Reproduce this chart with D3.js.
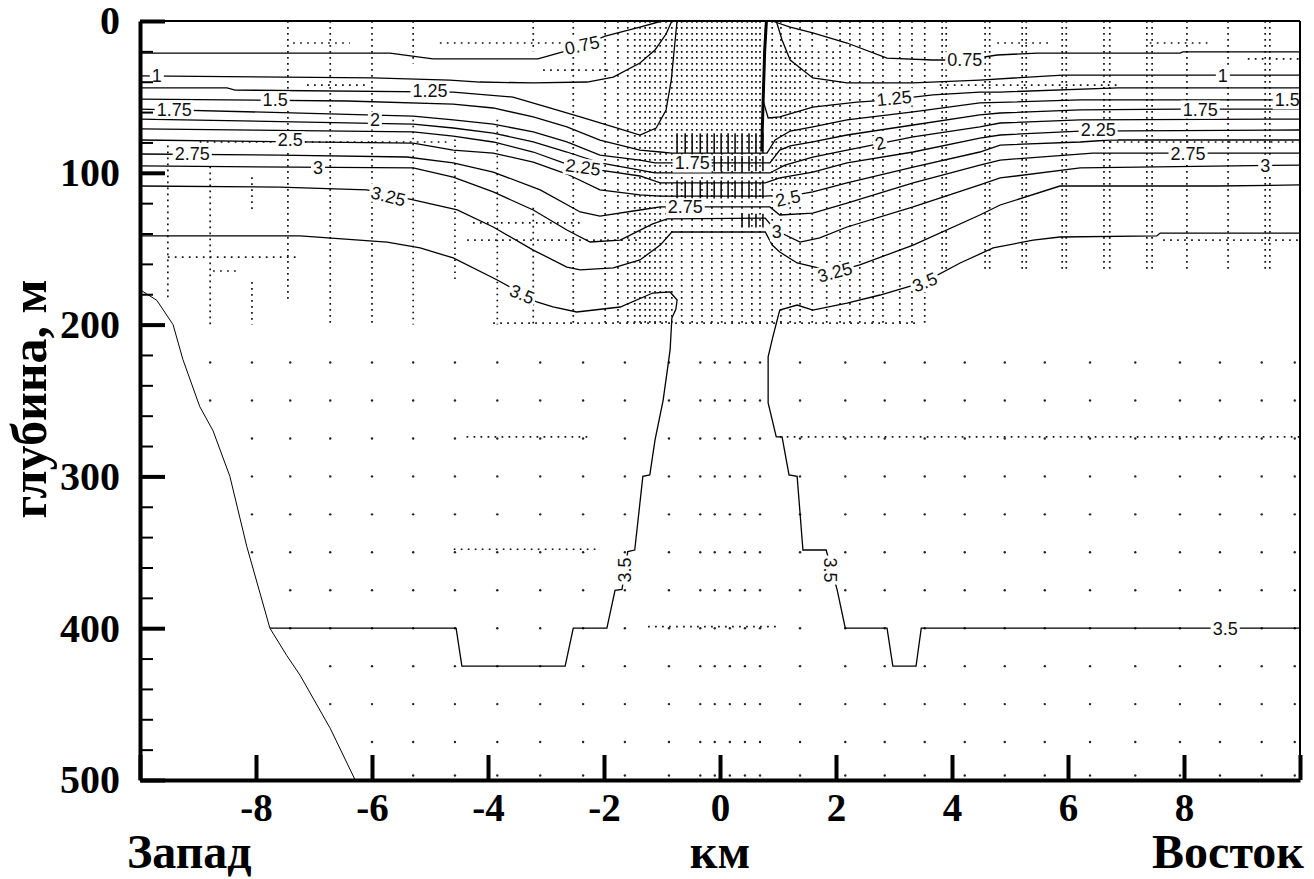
<!DOCTYPE html>
<html>
<head>
<meta charset="utf-8">
<script src="https://cdn.jsdelivr.net/npm/d3@7"></script>
<style>
  body { margin: 0; background: #fff; }
  svg { display: block; }
</style>
</head>
<body>
<svg id="chart" width="1314" height="879"></svg>
<script>
// ---- data (km across section, depth in m) ----
const xTicks = [-10, -8, -6, -4, -2, 0, 2, 4, 6, 8, 10]
const yTicks = [0, 100, 200, 300, 400, 500]
const yMinor = [20, 40, 60, 80, 120, 140, 160, 180, 220, 240, 260, 280, 320, 340, 360, 380, 420, 440, 460, 480]

// bottom slope on the west side
const slope = [[-10, 177], [-9.71, 184], [-9.43, 200], [-9.26, 223], [-8.97, 254], [-8.74, 270], [-8.45, 300],
  [-8.16, 346], [-7.76, 400], [-7.47, 418], [-7.24, 431], [-6.72, 466], [-6.29, 500]]

// isolines of temperature
const c075L = [[-10, 21.1], [-5.69, 21.1], [-4.95, 25], [-3.14, 25], [-2.71, 20.4], [-2.36, 15.8], [-1.98, 9.9], [-1.38, 4], [-1.0, 0]]
const c075R = [[0.9, 0], [1.21, 4], [1.6, 7.9], [2.19, 14.5], [2.88, 24.4], [3.67, 25.7], [4.22, 25.7], [4.78, 22.4], [5.47, 21.1], [7.93, 21.1], [7.98, 20.4], [10, 20.4]]
const c100L = [[-10, 36.2], [-5.98, 37.5], [-4.66, 38.9], [-4.14, 40.2], [-3.22, 40.8], [-2.29, 40.2], [-1.84, 36.9], [-1.38, 27.7], [-1.12, 19.1], [-0.93, 8.6], [-0.83, 0]]
const c100R = [[0.97, 0], [1.07, 12.5], [1.21, 25.7], [1.6, 37.5], [2.19, 40.8], [3.33, 40.8], [4.48, 38.9], [5.91, 35.6], [10, 35.6]]
const c125L = [[-10, 44.1], [-8.5, 44.1], [-8.36, 45.5], [-4.6, 46.8], [-3.57, 50.1], [-2.98, 56.7], [-2.41, 63.2], [-1.84, 69.8], [-1.38, 75.1], [-1.1, 70.5], [-0.93, 58.6], [-0.84, 38.9], [-0.79, 19.1], [-0.74, 0]]
const c125R = [[0.79, 0], [0.76, 25.7], [0.74, 52], [0.83, 63.9], [1.03, 63.2], [1.6, 56.7], [2.36, 53.4], [2.93, 52], [3.67, 48.7], [4.48, 46.8], [4.83, 46.8], [6.86, 44.1], [10, 44.1]]
const c150 = [[-10, 51.4], [-6.43, 52.7], [-4.6, 54.7], [-3.91, 57.3], [-3.22, 63.2], [-2.64, 69.8], [-2.07, 78.4], [-1.38, 85], [-1.03, 86.3], [-0.83, 87], [0.81, 87], [0.95, 78.4], [1.21, 72.5], [1.6, 69.8], [2.19, 65.2], [3.33, 59.9], [4.48, 54], [6.21, 52], [10, 52]]
const c175 = [[-10, 58], [-5.29, 62.6], [-4.6, 65.2], [-3.91, 67.9], [-3.22, 73.1], [-2.64, 79.7], [-2.07, 88.3], [-1.38, 91.6], [-1.12, 93.5], [0.86, 93.5], [1.03, 85], [1.21, 82.3], [1.6, 79.7], [2.19, 75.1], [3.33, 68.5], [4.48, 61.9], [4.83, 60.6], [6.21, 58.6], [7.93, 58], [10, 58]]
const c200 = [[-10, 64.6], [-5.29, 67.9], [-4.6, 70.5], [-3.91, 73.8], [-3.22, 79.7], [-2.64, 86.3], [-2.07, 93.5], [-1.38, 98.2], [-1.12, 100.1], [0.86, 100.1], [1.12, 94.9], [1.6, 89.6], [2.19, 85], [3.33, 76.4], [4.48, 69.8], [4.83, 67.2], [6.21, 65.2], [10, 64.6]]
const c225 = [[-10, 71.1], [-5.29, 73.1], [-4.6, 75.8], [-3.91, 79.7], [-3.22, 86.3], [-2.64, 94.2], [-2.07, 98.2], [-1.38, 102.1], [-1.03, 106.7], [0.78, 106.7], [1.03, 103.4], [1.6, 99.5], [2.19, 93.5], [3.33, 86.3], [4.48, 77.1], [4.83, 75.1], [6.21, 72.5], [10, 71.8]]
const c250 = [[-10, 78.4], [-5.29, 80.4], [-4.6, 85], [-3.91, 87], [-3.22, 92.9], [-2.64, 100.8], [-2.07, 111.3], [-1.38, 114.6], [-1.03, 115.3], [0.78, 115.3], [1.38, 114], [1.6, 112.6], [2.19, 106.7], [3.33, 96.2], [4.48, 86.3], [4.83, 81.7], [6.21, 79.7], [6.72, 78.4], [10, 78.4]]
const c275 = [[-10, 87.6], [-7.59, 88.3], [-5.4, 89.6], [-4.6, 93.5], [-3.91, 99.5], [-3.1, 111.3], [-2.41, 125.8], [-2.07, 128.5], [-1.38, 124.5], [-1.03, 122.5], [0.86, 122.5], [1.03, 127.8], [1.6, 126.5], [2.19, 119.9], [3.33, 106.7], [4.48, 94.9], [4.83, 91.6], [6.43, 87], [10, 87]]
const c300 = [[-10, 95.5], [-5.29, 96.8], [-4.6, 102.8], [-3.91, 112.6], [-3.22, 124.5], [-2.64, 137.7], [-2.24, 145.6], [-1.72, 144.3], [-1.16, 133.7], [-0.91, 130.4], [0.78, 129.8], [0.95, 137.7], [1.38, 145.6], [1.72, 142.9], [2.19, 135.7], [3.33, 122.5], [4.48, 108], [4.83, 103.4], [6.21, 96.8], [10, 94.9]]
const c325 = [[-10, 108.7], [-7.59, 109.4], [-6.09, 111.3], [-5.29, 117.9], [-4.53, 124.5], [-3.91, 135.7], [-3.22, 150.9], [-2.64, 162.1], [-2.41, 164], [-1.84, 162.7], [-1.38, 157.4], [-1.03, 147.6], [-0.83, 139], [0.78, 139], [0.9, 147.6], [1.03, 152.2], [1.33, 159.4], [1.98, 165.3], [2.41, 160.7], [3.33, 147.6], [4.48, 127.8], [4.83, 121.2], [5.86, 108.7], [8.57, 108.7], [10, 108]]
const c350L = [[-10, 141.6], [-7.24, 141.6], [-5.74, 145.6], [-5.17, 149.5], [-4.6, 156.1], [-3.84, 170.6], [-3.5, 177.9], [-3.16, 185.1], [-2.88, 188.4], [-2.47, 191.7], [-1.72, 188.4], [-1.16, 179.2], [-0.86, 178.5], [-0.74, 183.8], [-0.76, 189.7], [-0.83, 195.7], [-0.86, 216.7], [-0.98, 249.7], [-1.12, 276], [-1.21, 299], [-1.33, 300], [-1.47, 348.5], [-1.59, 349.5], [-1.69, 374.5], [-1.81, 375], [-1.95, 400], [-2.53, 400], [-2.67, 425], [-4.45, 425], [-4.55, 400], [-7.76, 400]]
const c350R = [[10, 139.7], [7.59, 139.7], [7.53, 141.6], [5.86, 142.3], [5.4, 144.3], [4.71, 149.5], [4.14, 159.4], [3.53, 171.9], [2.76, 180.5], [2.19, 185.8], [1.6, 190.4], [1.33, 187.1], [1.03, 190.4], [0.91, 208.2], [0.83, 221.3], [0.83, 251.6], [0.97, 274], [1.07, 274], [1.19, 299], [1.33, 300], [1.43, 348.5], [1.83, 348.5], [2.02, 374.8], [2.16, 400], [2.88, 400], [2.98, 425], [3.38, 425], [3.47, 400], [10, 400]]

// dark edge of the sinking plume
const plumeWall = [[0.8, 0], [0.77, 20], [0.75, 45], [0.73, 70], [0.72, 86]]

// isoline labels: text, km, m, angle
const labelText = ["1", "1.75", "2.75", "1.5", "2.5", "3", "2", "3.25", "1.25", "3.5", "2.25", "0.75",
  "1.75", "2.75", "2.5", "3",
  "0.75", "1.25", "2", "3.25", "3.5", "2.25", "1", "1.75", "1.5", "2.75", "3",
  "3.5", "3.5", "3.5"]
const labelKm = [-9.71, -9.41, -9.1, -7.67, -7.41, -6.93, -5.95, -5.72, -5.0, -3.41, -2.36, -2.38,
  -0.48, -0.6, 1.17, 0.98,
  4.22, 3.0, 2.76, 1.98, 3.53, 6.52, 8.67, 8.28, 9.78, 8.07, 9.4,
  8.71, -1.64, 1.9]
const labelM = [36.2, 58, 87.6, 52, 78.4, 96.2, 65.2, 115.3, 45.5, 179.8, 96.2, 15.8,
  93.5, 122.5, 116.6, 139,
  25.7, 50.7, 80.4, 165.3, 171.9, 71.8, 35.6, 58, 52, 87.6, 94.9,
  400, 361.7, 361.7]
const labelAngle = [0, 0, 0, 0, 0, 0, 0, 14, 0, 22, 8, -12,
  0, 0, -12, 0,
  0, -6, -15, -15, -22, 0, 0, 0, 0, 0, 0,
  0, -90, 90]

// grid nodes of the model (dotted columns and rows)
const upperCols = [[-9.52, 82, 184], [-8.79, 88, 200], [-8.07, 103, 125], [-8.07, 172, 200], [-7.45, 0, 184],
  [-6.72, 0, 200], [-6.0, 0, 200], [-5.29, 0, 28], [-5.29, 65, 200], [-4.57, 78, 170], [-3.84, 65, 200],
  [-3.22, 0, 20], [-3.22, 123, 200], [-2.53, 0, 200], [-1.98, 0, 200], [-1.76, 0, 200], [-1.59, 0, 200],
  [-1.47, 0, 200], [-1.38, 0, 200], [-1.29, 0, 200], [-1.21, 0, 200], [-1.12, 0, 200], [-1.03, 0, 200],
  [-0.93, 0, 200], [-0.83, 0, 200], [-0.74, 0, 87], [-0.66, 0, 200], [-0.57, 0, 87], [-0.48, 0, 200],
  [-0.4, 0, 87], [-0.31, 0, 200], [-0.22, 0, 87], [-0.14, 0, 200], [-0.05, 0, 87], [0.03, 0, 200],
  [0.12, 0, 87], [0.21, 0, 200], [0.3, 0, 87], [0.38, 0, 200], [0.47, 0, 87], [0.55, 0, 200],
  [0.62, 0, 87], [0.69, 0, 200], [0.9, 0, 200], [0.97, 20, 110], [1.05, 0, 200], [1.13, 20, 110],
  [1.21, 0, 200], [1.29, 20, 110], [1.38, 0, 200], [1.48, 20, 110], [1.59, 0, 200], [1.7, 20, 110],
  [1.84, 0, 200], [1.95, 20, 110], [2.07, 0, 200], [2.24, 0, 200], [2.41, 0, 200], [2.64, 0, 200], [2.81, 0, 200],
  [3.1, 0, 200], [3.31, 0, 200], [3.53, 0, 200], [3.83, 0, 165], [3.9, 0, 165], [4.57, 0, 165],
  [4.65, 0, 165], [5.21, 0, 165], [5.28, 0, 165], [5.9, 0, 165], [5.97, 0, 165], [6.62, 0, 165],
  [6.72, 0, 165], [7.36, 0, 165], [7.45, 0, 165], [8.05, 0, 165], [8.76, 0, 165], [9.4, 0, 165], [9.48, 0, 165]]
const upperRows = [[14.5, -7.36, -6.38], [14.5, -4.83, -2.71], [14.5, 4.78, 5.69], [14.5, 7.41, 8.45],
  [25, 9.1, 10], [32.3, -3.05, -1.84], [42.2, -7.12, -6.09], [42.2, 3.79, 6.86], [79.7, -8.97, -4.66],
  [79.7, 6.72, 10], [133, -4.26, -2.41], [144.3, -4.36, -1.38], [144.3, 7.64, 10], [155.5, -9.52, -7.24],
  [164.7, -8.74, -8.28], [199, -3.91, 3.45]]
const deepRows = [225, 250, 275, 300, 325, 350, 375, 400, 425, 450, 475, 497]
const deepCols = [-8.79, -8.07, -7.41, -6.72, -6.0, -5.29, -4.57, -3.84, -3.1, -2.36, -1.64, -0.88, -0.34,
  -0.09, 0.17, 0.43, 0.69, 1.38, 2.16, 2.84, 3.53, 4.22, 4.91, 5.6, 6.38, 7.16, 7.93, 8.62, 9.34, 9.91]
const deepRuns = [[274, -4.37, -2.28], [274, 1.03, 10], [348, -4.59, -2.07], [399, -1.24, 1.0]]

// flow vectors inside the plume
const hatchCols = [-0.74, -0.6, -0.48, -0.34, -0.22, -0.1, 0.02, 0.14, 0.26, 0.38, 0.5, 0.62, 0.74]
const hatchBands = [[74, 87, -0.8, 0.8], [89, 99, -0.2, 0.8], [105, 117, -0.8, 0.8], [127, 136, 0.3, 0.8]]

// ---- drawing ----
const svg = d3.select("#chart")
const x = d3.scaleLinear().domain([-10, 10]).range([140, 1300])
const y = d3.scaleLinear().domain([0, 500]).range([21, 780])
const serif = "'Liberation Serif', 'Times New Roman', serif"

const line = d3.line().x(d => x(d[0])).y(d => y(d[1]))

// water area right of the slope, used to clip the grid dots
svg.append("clipPath").attr("id", "water")
  .append("path")
  .attr("d", line(slope.concat([[10, 500], [10, 0], [-10, 0]])) + "Z")

const dots = svg.append("g").attr("clip-path", "url(#water)")
  .attr("stroke", "#111").attr("stroke-width", 1.7).attr("fill", "none")

dots.selectAll(".col").data(upperCols).join("line")
  .attr("x1", d => x(d[0])).attr("x2", d => x(d[0]))
  .attr("y1", d => y(d[1])).attr("y2", d => y(d[2]))
  .attr("stroke-dasharray", "1.7 4.3")

dots.selectAll(".row").data(upperRows.concat(deepRuns)).join("line")
  .attr("class", "row")
  .attr("x1", d => x(d[1])).attr("x2", d => x(d[2]))
  .attr("y1", d => y(d[0])).attr("y2", d => y(d[0]))
  .attr("stroke-dasharray", "1.7 5.3")

const nodes = deepRows.flatMap(r => deepCols.map(c => [c, r]))
dots.selectAll("circle").data(nodes).join("circle")
  .attr("cx", d => x(d[0])).attr("cy", d => y(d[1]))
  .attr("r", 1.2).attr("fill", "#222").attr("stroke", "none")

// flow vectors
const hatch = hatchBands.flatMap(b => hatchCols.filter(c => c >= b[2] && c <= b[3]).map(c => [c, b[0], b[1]]))
svg.append("g").selectAll("line").data(hatch).join("line")
  .attr("x1", d => x(d[0])).attr("x2", d => x(d[0]))
  .attr("y1", d => y(d[1])).attr("y2", d => y(d[2]))
  .attr("stroke", "#111").attr("stroke-width", 1.6)

// isolines
const isolines = [c075L, c075R, c100L, c100R, c125L, c125R, c150, c175, c200, c225, c250, c275, c300, c325, c350L, c350R]
svg.append("g").selectAll("path").data(isolines).join("path")
  .attr("d", line)
  .attr("fill", "none").attr("stroke", "#000").attr("stroke-width", 1.3)

svg.append("path").attr("d", line(plumeWall))
  .attr("fill", "none").attr("stroke", "#000").attr("stroke-width", 3)

svg.append("path").attr("d", line(slope))
  .attr("fill", "none").attr("stroke", "#000").attr("stroke-width", 1)

// isoline labels with a white gap behind them
const labels = svg.append("g").selectAll("g").data(labelText).join("g")
  .attr("transform", (d, i) => `translate(${x(labelKm[i])},${y(labelM[i])}) rotate(${labelAngle[i]})`)
labels.append("text")
  .attr("text-anchor", "middle").attr("dy", "0.36em")
  .style("font-family", "'Liberation Sans', Arial, sans-serif").style("font-size", "18px")
  .attr("fill", "#111")
  .text(d => d)
labels.each(function () {
  const g = d3.select(this)
  const b = g.select("text").node().getBBox()
  g.insert("rect", "text")
    .attr("x", b.x - 2).attr("y", b.y + 1).attr("width", b.width + 4).attr("height", b.height - 2)
    .attr("fill", "#fff")
})

// frame
svg.append("line").attr("x1", x(-10)).attr("x2", x(10)).attr("y1", y(0)).attr("y2", y(0))
  .attr("stroke", "#000").attr("stroke-width", 2)
svg.append("line").attr("x1", x(10)).attr("x2", x(10)).attr("y1", y(0)).attr("y2", y(500))
  .attr("stroke", "#000").attr("stroke-width", 2)

// y axis
const yAxis = svg.append("g").attr("transform", `translate(${x(-10)},0)`)
  .call(d3.axisLeft(y).tickValues(yTicks).tickSize(-25).tickSizeOuter(0).tickPadding(20))
yAxis.select(".domain").attr("stroke-width", 4)
yAxis.selectAll(".tick line").attr("stroke-width", 4)
yAxis.selectAll("text").style("font-family", serif).style("font-size", "40px").style("font-weight", "bold")
  .attr("fill", "#000")

svg.append("g").attr("transform", `translate(${x(-10)},0)`)
  .call(d3.axisLeft(y).tickValues(yMinor).tickSize(-13).tickSizeOuter(0).tickFormat(""))
  .call(g => g.select(".domain").remove())
  .selectAll(".tick line").attr("stroke-width", 2)

// x axis
const xAxis = svg.append("g").attr("transform", `translate(0,${y(500)})`)
  .call(d3.axisBottom(x).tickValues(xTicks).tickSize(-25).tickSizeOuter(0).tickPadding(13)
    .tickFormat(d => Math.abs(d) === 10 ? "" : String(d)))
xAxis.select(".domain").attr("stroke-width", 4)
xAxis.selectAll(".tick line").attr("stroke-width", 4)
xAxis.selectAll("text").style("font-family", serif).style("font-size", "39px").style("font-weight", "bold")
  .attr("fill", "#000")

// titles
const title = (t, tx, ty, anchor) => svg.append("text")
  .attr("x", tx).attr("y", ty).attr("text-anchor", anchor)
  .style("font-family", serif).style("font-size", "48px").style("font-weight", "bold")
  .text(t)
title("Запад", 127, 868, "start")
title("км", x(0), 868, "middle")
title("Восток", 1304, 868, "end")

svg.append("text")
  .attr("transform", "translate(46,399) rotate(-90)")
  .attr("text-anchor", "middle")
  .style("font-family", serif).style("font-size", "50px").style("font-weight", "bold")
  .text("глубина, м")
</script>
</body>
</html>
